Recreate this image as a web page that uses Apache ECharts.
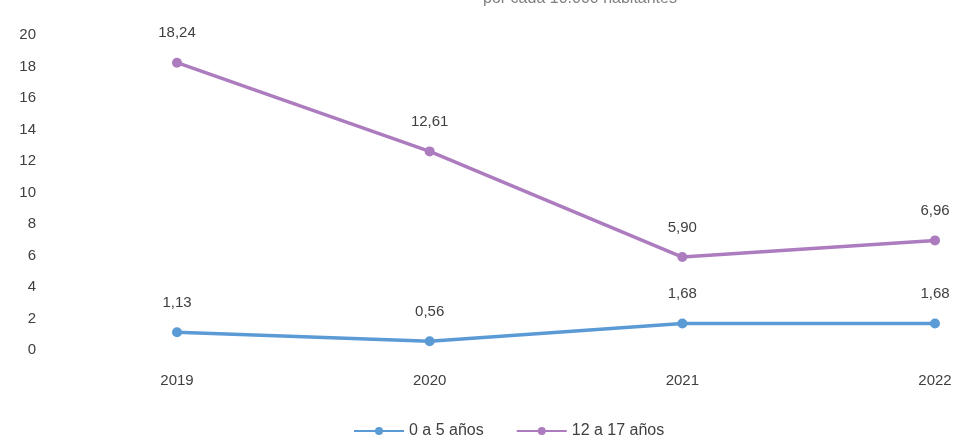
<!DOCTYPE html>
<html><head><meta charset="utf-8">
<script src="https://cdn.jsdelivr.net/npm/echarts@6/dist/echarts.min.js"></script>
<style>html,body{margin:0;padding:0;background:#fff}#c{width:966px;height:442px}</style>
</head><body><div id="c"></div>
<script>
const titleText = 'por cada 10.000 habitantes';
const categories = ['2019', '2020', '2021', '2022'];
const seriesNames = ['0 a 5 años', '12 a 17 años'];
const valuesYoung = [1.13, 0.56, 1.68, 1.68];
const valuesTeen = [18.24, 12.61, 5.90, 6.96];
const yTicks = [0, 2, 4, 6, 8, 10, 12, 14, 16, 18, 20];

const chart = echarts.init(document.getElementById('c'));
const fmt = p => p.value.toFixed(2).replace('.', ',');
const font = 'Liberation Sans, Arial, sans-serif';
const fs = 15;
function mk(name, data, color) {
  return {
    name, type: 'line', data,
    symbol: 'circle', symbolSize: 10,
    lineStyle: { color, width: 3.5 },
    itemStyle: { color },
    label: { show: true, position: 'top', distance: 17, formatter: fmt,
      color: '#404040', fontSize: fs, fontFamily: font }
  };
}
chart.setOption({
  animation: false,
  title: { text: titleText, left: 575, top: -14, textAlign: 'center',
    textStyle: { color: '#808080', fontSize: 16, fontWeight: 'normal', fontFamily: font } },
  grid: { left: 177, right: 31, top: 35, bottom: 92, containLabel: false },
  legend: { bottom: -2, left: 348, itemGap: 32, itemWidth: 50, itemHeight: 10,
    textStyle: { color: '#404040', fontSize: 16, fontFamily: font },
    data: seriesNames },
  xAxis: { type: 'category', data: categories, boundaryGap: false,
    axisLine: { show: false }, axisTick: { show: false },
    axisLabel: { color: '#404040', fontSize: fs, fontFamily: font, margin: 23 } },
  yAxis: { type: 'value', min: yTicks[0], max: yTicks[yTicks.length - 1], interval: 2,
    splitLine: { show: false }, axisLine: { show: false }, axisTick: { show: false },
    axisLabel: { color: '#404040', fontSize: fs, fontFamily: font, margin: 141 } },
  series: [mk(seriesNames[0], valuesYoung, '#5b9bd5'), mk(seriesNames[1], valuesTeen, '#ac7cbf')]
});
</script></body></html>
